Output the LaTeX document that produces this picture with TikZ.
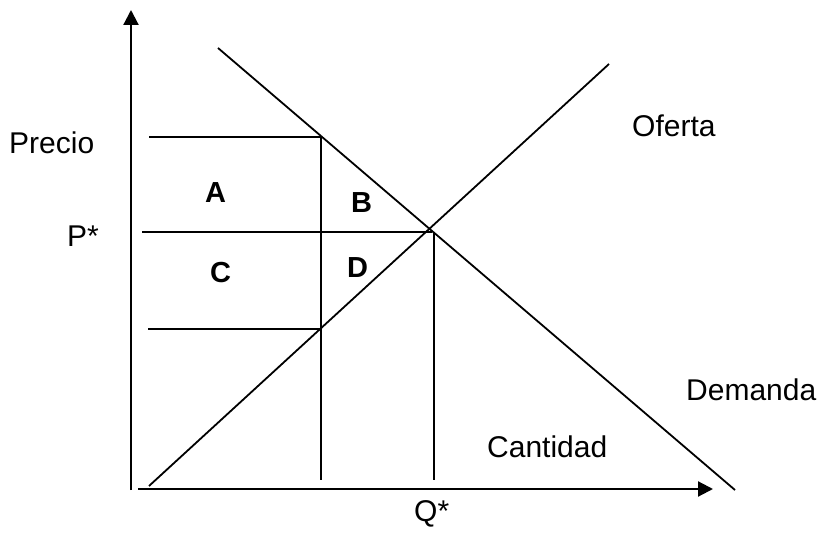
\documentclass[tikz,border=0pt]{standalone}
\usepackage{fontspec}
\setmainfont{Liberation Sans}
\usetikzlibrary{arrows.meta}
\begin{document}
\begin{tikzpicture}[x=1pt,y=-1pt,
  lbl/.style={anchor=base west,inner sep=0pt,font=\fontsize{30}{36}\selectfont},
  blbl/.style={lbl,font=\fontsize{29}{36}\selectfont\bfseries},
  axis/.style={line width=2.2pt,-{Triangle[length=15pt,width=15pt]}},
  ln/.style={line width=1.8pt}]
\useasboundingbox (0,0) rectangle (825,537);
% axes
\coordinate (o1) at (131,490);
\coordinate (ytip) at (131,10);
\coordinate (o2) at (138,489);
\coordinate (xtip) at (713,489);
\draw[axis] (o1) -- (ytip);
\draw[axis] (o2) -- (xtip);
% supply and demand
\coordinate (s0) at (149,486);
\coordinate (s1) at (609,64);
\coordinate (d0) at (218,48);
\coordinate (d1) at (735,490);
\draw[ln] (s0) -- (s1);
\draw[ln] (d0) -- (d1);
% guide lines
\coordinate (e) at (432,232);
\coordinate (pl) at (142,232);
\coordinate (q0) at (434,232);
\coordinate (q1) at (434,480);
\coordinate (v0) at (321,137);
\coordinate (v1) at (321,480);
\coordinate (h1) at (149,137);
\coordinate (h2a) at (148,329);
\coordinate (h2b) at (321,329);
\draw[ln] (pl) -- (e);
\draw[ln] (q0) -- (q1);
\draw[ln] (v0) -- (v1);
\draw[ln] (h1) -- (v0);
\draw[ln] (h2a) -- (h2b);
% labels
\node[lbl] (precio) at (9,154) {Precio};
\node[lbl] (pstar) at (67,247) {P*};
\node[blbl] (A) at (205,203) {A};
\node[blbl] (B) at (351,213) {B};
\node[blbl] (C) at (210,283) {C};
\node[blbl] (D) at (347,278) {D};
\node[lbl] (oferta) at (632,137) {Oferta};
\node[lbl] (demanda) at (686,400) {Demanda};
\node[lbl] (cantidad) at (487,457) {Cantidad};
\node[lbl] (qstar) at (414,521) {Q*};
\end{tikzpicture}
\end{document}
